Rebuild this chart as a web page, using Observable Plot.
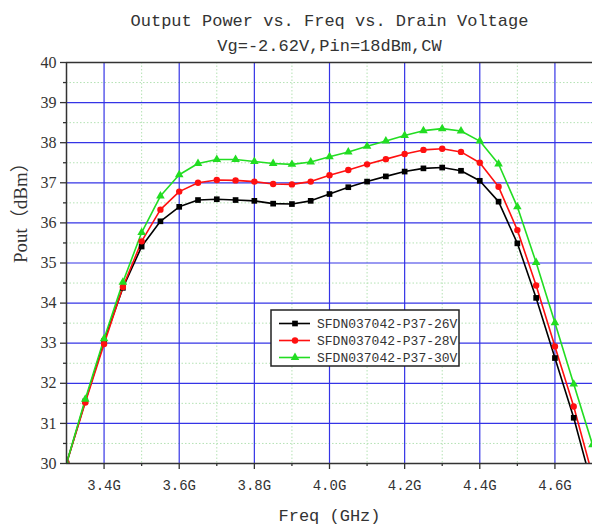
<!DOCTYPE html>
<html>
<head>
<meta charset="utf-8">
<script src="https://cdn.jsdelivr.net/npm/d3@7"></script>
<script src="https://cdn.jsdelivr.net/npm/@observablehq/plot@0.6"></script>
<style>
  html, body { margin: 0; padding: 0; background: #fff; }
  #chart svg { display: block; }
</style>
</head>
<body>
<div id="chart"></div>
<script>
// ---- data ----
const freq = [3.30, 3.35, 3.40, 3.45, 3.50, 3.55, 3.60, 3.65, 3.70, 3.75, 3.80, 3.85, 3.90, 3.95,
              4.00, 4.05, 4.10, 4.15, 4.20, 4.25, 4.30, 4.35, 4.40, 4.45, 4.50, 4.55, 4.60, 4.65, 4.70];
const pout26 = [30.0, 31.55, 33.05, 34.38, 35.41, 36.04, 36.40, 36.57, 36.59, 36.57, 36.55, 36.48, 36.47, 36.55,
                36.72, 36.89, 37.03, 37.16, 37.28, 37.36, 37.38, 37.30, 37.05, 36.53, 35.49, 34.13, 32.63, 31.14, 29.40];
const pout28 = [30.0, 31.52, 32.98, 34.40, 35.54, 36.33, 36.78, 37.00, 37.07, 37.06, 37.03, 36.97, 36.96, 37.03,
                37.19, 37.32, 37.46, 37.59, 37.72, 37.82, 37.85, 37.77, 37.50, 36.90, 35.82, 34.44, 32.92, 31.42, 29.70];
const pout30 = [30.0, 31.60, 33.11, 34.52, 35.76, 36.67, 37.20, 37.48, 37.58, 37.58, 37.53, 37.48, 37.46, 37.52,
                37.65, 37.77, 37.91, 38.04, 38.18, 38.30, 38.35, 38.29, 38.04, 37.47, 36.40, 35.01, 33.51, 31.98, 30.47];
const seriesNames = ["SFDN037042-P37-26V", "SFDN037042-P37-28V", "SFDN037042-P37-30V"];
const seriesColors = ["#000000", "#ff1010", "#22dd22"];
const seriesSymbols = ["square", "circle", "triangle"];
const xMajorTicks = [3.4, 3.6, 3.8, 4.0, 4.2, 4.4, 4.6];
const xMinorTicks = [3.5, 3.7, 3.9, 4.1, 4.3, 4.5];
const yMajorTicks = [30, 31, 32, 33, 34, 35, 36, 37, 38, 39, 40];
const yMinorTicks = [30.5, 31.5, 32.5, 33.5, 34.5, 35.5, 36.5, 37.5, 38.5, 39.5];
const titleText = "Output Power vs. Freq vs. Drain Voltage";
const subtitleText = "Vg=-2.62V,Pin=18dBm,CW";
const xLabel = "Freq (GHz)";
const yLabel = "Pout（dBm）";

const allSeries = [pout26, pout28, pout30];
const data = allSeries.flatMap((vals, s) =>
  freq.map((f, i) => ({freq: f, pout: vals[i], series: seriesNames[s]})));

const mono = "'Liberation Mono', 'DejaVu Sans Mono', monospace";
const serif = "'Liberation Serif', 'Noto Sans CJK SC', serif";
const ink = "#333";

const plot = Plot.plot({
  width: 592,
  height: 525,
  marginLeft: 66,
  marginRight: 0,
  marginTop: 62,
  marginBottom: 62,
  x: {domain: [3.3, 4.7]},
  y: {domain: [30, 40]},
  color: {domain: seriesNames, range: seriesColors},
  symbol: {domain: seriesNames, range: seriesSymbols},
  style: {background: "#fff", color: ink},
  marks: [
    // minor grid
    Plot.ruleY(yMinorTicks, {stroke: "#b4e2b4", strokeDasharray: "1.5,2", strokeWidth: 1}),
    Plot.ruleX(xMinorTicks, {stroke: "#b4e2b4", strokeDasharray: "1.5,2", strokeWidth: 1}),
    // major grid
    Plot.ruleY(yMajorTicks.filter(d => d > 30 && d < 40), {stroke: "#3434e6", strokeWidth: 1.2}),
    Plot.ruleX(xMajorTicks, {stroke: "#3434e6", strokeWidth: 1.2}),
    // series
    Plot.line(data, {x: "freq", y: "pout", z: "series", stroke: "series", strokeWidth: 1.6, clip: true}),
    Plot.dot(data, {x: "freq", y: "pout", symbol: "series", fill: "series", stroke: "none", r: 3.2, clip: true}),
    // frame lines
    Plot.ruleY([40], {stroke: "#333", strokeWidth: 1.5}),
    Plot.ruleY([30], {stroke: "#333", strokeWidth: 1.5}),
    Plot.ruleX([3.3], {stroke: "#333", strokeWidth: 1.5}),
    // axes
    Plot.axisY({ticks: yMajorTicks, tickSize: 6, tickPadding: 4, tickFormat: d => String(d),
                fontFamily: serif, fontSize: 16, stroke: "#333", strokeWidth: 1.3, label: null}),
    Plot.axisY({ticks: yMinorTicks, tickSize: 3, tickFormat: () => "", stroke: "#333", strokeWidth: 1.3, label: null}),
    Plot.axisX({ticks: xMajorTicks, tickSize: 6, tickPadding: 11, tickFormat: d => d.toFixed(1) + "G",
                fontFamily: mono, fontSize: 14, stroke: "#333", strokeWidth: 1.3, label: null}),
    Plot.axisX({ticks: xMinorTicks, tickSize: 3, tickFormat: () => "", stroke: "#333", strokeWidth: 1.3, label: null}),
    // titles and axis labels
    Plot.text([titleText], {frameAnchor: "top", dy: -42, fontFamily: mono, fontSize: 17, fill: ink, lineAnchor: "middle"}),
    Plot.text([subtitleText], {frameAnchor: "top", dy: -17, fontFamily: mono, fontSize: 17, fill: ink, lineAnchor: "middle"}),
    Plot.text([xLabel], {frameAnchor: "bottom", dy: 52, fontFamily: mono, fontSize: 17, fill: ink, lineAnchor: "middle"}),
    Plot.text([yLabel], {frameAnchor: "left", dx: -46, rotate: -90, fontFamily: serif, fontSize: 19, fill: ink, lineAnchor: "middle"})
  ]
});

// legend box (inside the plot area)
const svg = d3.select(plot);
const lg = svg.append("g").attr("class", "legend").attr("text-anchor", "start");
const lx = 271, ly = 310, lw = 188, lh = 56;
lg.append("rect").attr("x", lx).attr("y", ly).attr("width", lw).attr("height", lh)
  .attr("fill", "#fff").attr("stroke", "#222").attr("stroke-width", 1.5);
const symMap = {square: d3.symbolSquare, circle: d3.symbolCircle, triangle: d3.symbolTriangle};
seriesNames.forEach((name, i) => {
  const yy = ly + 13.5 + i * 17;
  lg.append("line").attr("x1", lx + 8).attr("x2", lx + 39).attr("y1", yy).attr("y2", yy)
    .attr("stroke", seriesColors[i]).attr("stroke-width", 1.6);
  lg.append("path").attr("transform", `translate(${lx + 24},${yy})`)
    .attr("d", d3.symbol(symMap[seriesSymbols[i]], Math.PI * 3.2 * 3.2)())
    .attr("fill", seriesColors[i]);
  lg.append("text").attr("x", lx + 46).attr("y", yy).attr("dy", "0.35em")
    .attr("text-anchor", "start")
    .attr("font-family", mono).attr("font-size", 13).attr("fill", ink).text(name);
});

document.getElementById("chart").appendChild(plot);
</script>
</body>
</html>
